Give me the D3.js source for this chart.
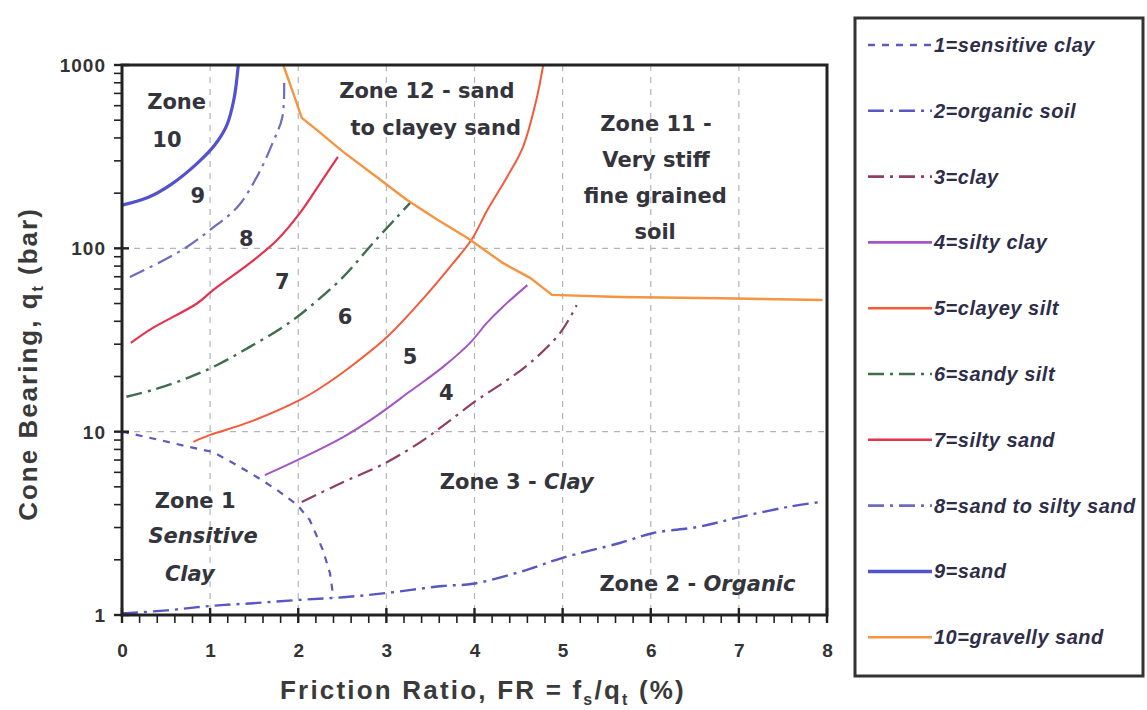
<!DOCTYPE html>
<html>
<head>
<meta charset="utf-8">
<script src="https://cdn.jsdelivr.net/npm/d3@7"></script>
<style>
  body { margin: 0; background: #fff; }
  svg { display: block; }
  .tick-label { font-family: "Liberation Sans", Arial, sans-serif; font-weight: bold; font-size: 19px; letter-spacing: 1px; fill: #333; }
  .axis-title { font-family: "Liberation Sans", Arial, sans-serif; font-weight: bold; font-size: 26px; fill: #3a3a3a; }
  .zone { font-family: "DejaVu Sans", sans-serif; font-weight: bold; font-size: 21px; fill: #34343c; }
  .legend-text { font-family: "Liberation Sans", Arial, sans-serif; font-weight: bold; font-style: italic; font-size: 20px; letter-spacing: 0.5px; fill: #2e2e48; }
</style>
</head>
<body>
<div class="chart"></div>
<script>
// boundary curves: FR (%) vs cone bearing qt (bar)
const fr1 = [0, 0.43, 0.74, 1.03, 1.26, 1.53, 1.76, 1.99, 2.13, 2.28, 2.36, 2.4];
const qt1 = [10, 9.0, 8.3, 7.75, 6.75, 5.66, 4.81, 3.98, 3.3, 2.26, 1.69, 1.24];

const fr2 = [0, 0.51, 1.0, 1.49, 2.02, 2.51, 3.01, 3.64, 3.98, 4.52, 5.0, 5.65, 6.03, 6.53, 7.01, 7.55, 7.95];
const qt2 = [1.02, 1.06, 1.12, 1.16, 1.21, 1.25, 1.32, 1.44, 1.48, 1.72, 2.05, 2.47, 2.8, 3.02, 3.42, 3.88, 4.15];

const fr3 = [2.04, 2.44, 3.01, 3.42, 3.69, 4.03, 4.32, 4.63, 4.97, 5.16];
const qt3 = [4.13, 5.12, 6.83, 9.0, 11.2, 14.9, 18.4, 23.7, 34.5, 49];

const fr4 = [1.62, 1.99, 2.51, 2.89, 3.27, 3.64, 3.95, 4.14, 4.32, 4.6];
const qt4 = [5.8, 7.0, 9.35, 12.2, 16.6, 22.5, 30.5, 39.2, 47.9, 63];

const fr5 = [0.81, 1.0, 1.45, 2.02, 2.25, 2.62, 3.01, 3.4, 3.76, 3.97, 4.14, 4.37, 4.55, 4.7, 4.78];
const qt5 = [8.8, 9.6, 11.3, 14.9, 17.3, 23.1, 32.9, 52, 83.3, 112, 160, 245, 357, 640, 1000];

const fr6 = [0.05, 0.35, 0.74, 1.08, 1.45, 1.83, 2.13, 2.51, 2.85, 3.12, 3.27];
const qt6 = [15.5, 16.9, 19.6, 23.1, 29, 37.3, 47.9, 69.8, 107, 148, 177];

const fr7 = [0.1, 0.35, 0.85, 1.03, 1.45, 1.76, 2.02, 2.25, 2.45];
const qt7 = [30.5, 36.8, 50, 59, 83, 111, 156, 227, 315];

const fr8 = [0.09, 0.43, 0.74, 1.0, 1.31, 1.53, 1.71, 1.82, 1.84];
const qt8 = [69.8, 84, 102, 126, 168, 245, 376, 521, 800];

const fr9 = [0, 0.3, 0.55, 0.85, 1.05, 1.19, 1.27, 1.32];
const qt9 = [172, 190, 222, 290, 365, 470, 650, 1000];

const fr10 = [1.83, 1.93, 2.04, 2.21, 2.51, 2.89, 3.23, 3.58, 3.92, 4.32, 4.63, 4.88, 5.65, 6.79, 7.95];
const qt10 = [1000, 731, 515, 443, 336, 245, 184, 143, 114, 83.3, 69, 55.7, 54.3, 53.4, 52.3];

const seriesNames = ["1=sensitive clay", "2=organic soil", "3=clay", "4=silty clay", "5=clayey silt",
  "6=sandy silt", "7=silty sand", "8=sand to silty sand", "9=sand", "10=gravelly sand"];
const seriesX = [fr1, fr2, fr3, fr4, fr5, fr6, fr7, fr8, fr9, fr10];
const seriesY = [qt1, qt2, qt3, qt4, qt5, qt6, qt7, qt8, qt9, qt10];

const xTicks = [0, 1, 2, 3, 4, 5, 6, 7, 8];
const yTicks = [1, 10, 100, 1000];

// zone labels: [FR, qt, text, italic part]
const zoneLabels = [
  [0.62, 621, "Zone", ""],
  [0.51, 385, "10", ""],
  [0.86, 191, "9", ""],
  [1.41, 111, "8", ""],
  [1.82, 64.7, "7", ""],
  [2.53, 41.7, "6", ""],
  [3.27, 25.2, "5", ""],
  [3.68, 16.1, "4", ""],
  [3.46, 713, "Zone 12 - sand", ""],
  [3.56, 448, "to clayey sand", ""],
  [6.06, 471, "Zone 11 -", ""],
  [6.06, 300, "Very stiff", ""],
  [6.05, 191, "fine grained", ""],
  [6.05, 121, "soil", ""],
  [4.48, 5.25, "Zone 3 - ", "Clay"],
  [0.83, 4.13, "Zone 1", ""],
  [0.92, 2.66, "", "Sensitive"],
  [0.77, 1.65, "", "Clay"],
  [6.53, 1.46, "Zone 2 - ", "Organic"]
];

const colors = ["#5b5bbd", "#5757c4", "#8e3f62", "#a455c4", "#f35b3a",
  "#3e6e4c", "#e2334f", "#6c6cc0", "#5252cc", "#f59441"];
const dashes = ["7,7", "16,6,3,6", "16,6,3,6", null, null, "16,6,3,6", null, "16,6,3,6", null, null];
const widths = [2.2, 2.4, 2.2, 2, 2, 2.4, 2.2, 2.2, 3.2, 2.4];

const W = 1147, H = 710;
const margin = { left: 122, top: 65, right: 827, bottom: 615 };

const svg = d3.select('.chart').append('svg')
  .attr('width', W).attr('height', H);

const x = d3.scaleLinear().domain([0, 8]).range([margin.left, margin.right]);
const y = d3.scaleLog().domain([1, 1000]).range([margin.bottom, margin.top]);

// grid
const grid = svg.append('g').attr('stroke', '#b5b5b5').attr('stroke-dasharray', '6,6').attr('stroke-width', 1.2);
xTicks.slice(1, -1).forEach(v => {
  grid.append('line').attr('x1', x(v)).attr('x2', x(v)).attr('y1', y(1000)).attr('y2', y(1));
});
[10, 100].forEach(v => {
  grid.append('line').attr('x1', x(0)).attr('x2', x(8)).attr('y1', y(v)).attr('y2', y(v));
});

// curves
const line = d3.line().x(d => x(d[0])).y(d => y(d[1]));
seriesNames.forEach((name, i) => {
  const pts = seriesX[i].map((v, j) => [v, seriesY[i][j]]);
  const curve = (i === 0 || i === 9) ? d3.curveLinear : d3.curveCatmullRom.alpha(0.5);
  svg.append('path')
    .datum(pts)
    .attr('fill', 'none')
    .attr('stroke', colors[i])
    .attr('stroke-width', widths[i])
    .attr('stroke-dasharray', dashes[i])
    .attr('d', line.curve(curve));
});

// frame
svg.append('rect')
  .attr('x', x(0)).attr('y', y(1000))
  .attr('width', x(8) - x(0)).attr('height', y(1) - y(1000))
  .attr('fill', 'none').attr('stroke', '#222').attr('stroke-width', 3);

// x axis ticks
const xAxis = svg.append('g').attr('stroke', '#222');
d3.range(0, 8.01, 0.2).forEach(v => {
  const major = Math.abs(v - Math.round(v)) < 1e-6;
  xAxis.append('line')
    .attr('x1', x(v)).attr('x2', x(v))
    .attr('y1', major ? y(1) - 7 : y(1)).attr('y2', y(1) + 8)
    .attr('stroke-width', major ? 2.4 : 1.6);
});
svg.selectAll('.xlab').data(xTicks).enter().append('text')
  .attr('class', 'tick-label')
  .attr('x', d => x(d) + 1).attr('y', 657)
  .attr('text-anchor', 'middle')
  .text(d => d);

// y axis ticks (log)
const yAxis = svg.append('g').attr('stroke', '#222');
[1, 10, 100].forEach(dec => {
  d3.range(1, 10).forEach(m => {
    const v = dec * m;
    const major = m === 1;
    yAxis.append('line')
      .attr('x1', x(0) - 8).attr('x2', major ? x(0) + 7 : x(0))
      .attr('y1', y(v)).attr('y2', y(v))
      .attr('stroke-width', major ? 2.4 : 1.6);
  });
});
yAxis.append('line').attr('x1', x(0) - 8).attr('x2', x(0) + 7)
  .attr('y1', y(1000)).attr('y2', y(1000)).attr('stroke-width', 2.4);
svg.selectAll('.ylab').data(yTicks).enter().append('text')
  .attr('class', 'tick-label')
  .attr('x', 106).attr('y', d => y(d) + 7)
  .attr('text-anchor', 'end')
  .text(d => d);

// axis titles
const yTitle = svg.append('text').attr('class', 'axis-title')
  .attr('transform', 'translate(37,364) rotate(-90)')
  .attr('letter-spacing', 2)
  .attr('text-anchor', 'middle');
yTitle.append('tspan').text('Cone Bearing, q');
yTitle.append('tspan').attr('font-size', 16).attr('dy', 6).text('t');
yTitle.append('tspan').attr('dy', -6).text(' (bar)');

const xTitle = svg.append('text').attr('class', 'axis-title')
  .attr('x', 483).attr('y', 699)
  .attr('letter-spacing', 2.2)
  .attr('text-anchor', 'middle');
xTitle.append('tspan').text('Friction Ratio, FR  =  f');
xTitle.append('tspan').attr('font-size', 16).attr('dy', 6).text('s');
xTitle.append('tspan').attr('dy', -6).text('/q');
xTitle.append('tspan').attr('font-size', 16).attr('dy', 6).text('t');
xTitle.append('tspan').attr('dy', -6).text('  (%)');

// zone labels
zoneLabels.forEach(d => {
  const t = svg.append('text').attr('class', 'zone')
    .attr('x', x(d[0])).attr('y', y(d[1]))
    .attr('text-anchor', 'middle')
    .attr('dominant-baseline', 'middle');
  if (d[2]) t.append('tspan').text(d[2]);
  if (d[3]) t.append('tspan').attr('font-style', 'italic').text(d[3]);
});

// legend
const lg = svg.append('g');
lg.append('rect').attr('x', 855).attr('y', 18).attr('width', 288).attr('height', 658)
  .attr('fill', '#fff').attr('stroke', '#333').attr('stroke-width', 3);
seriesNames.forEach((name, i) => {
  const ly = 45 + i * 65.8;
  lg.append('line')
    .attr('x1', 868).attr('x2', 932).attr('y1', ly).attr('y2', ly)
    .attr('stroke', colors[i])
    .attr('stroke-width', i === 8 ? 3.5 : 2.6)
    .attr('stroke-dasharray', dashes[i]);
  lg.append('text').attr('class', 'legend-text')
    .attr('x', 934).attr('y', ly + 7)
    .text(name);
});
</script>
</body>
</html>
